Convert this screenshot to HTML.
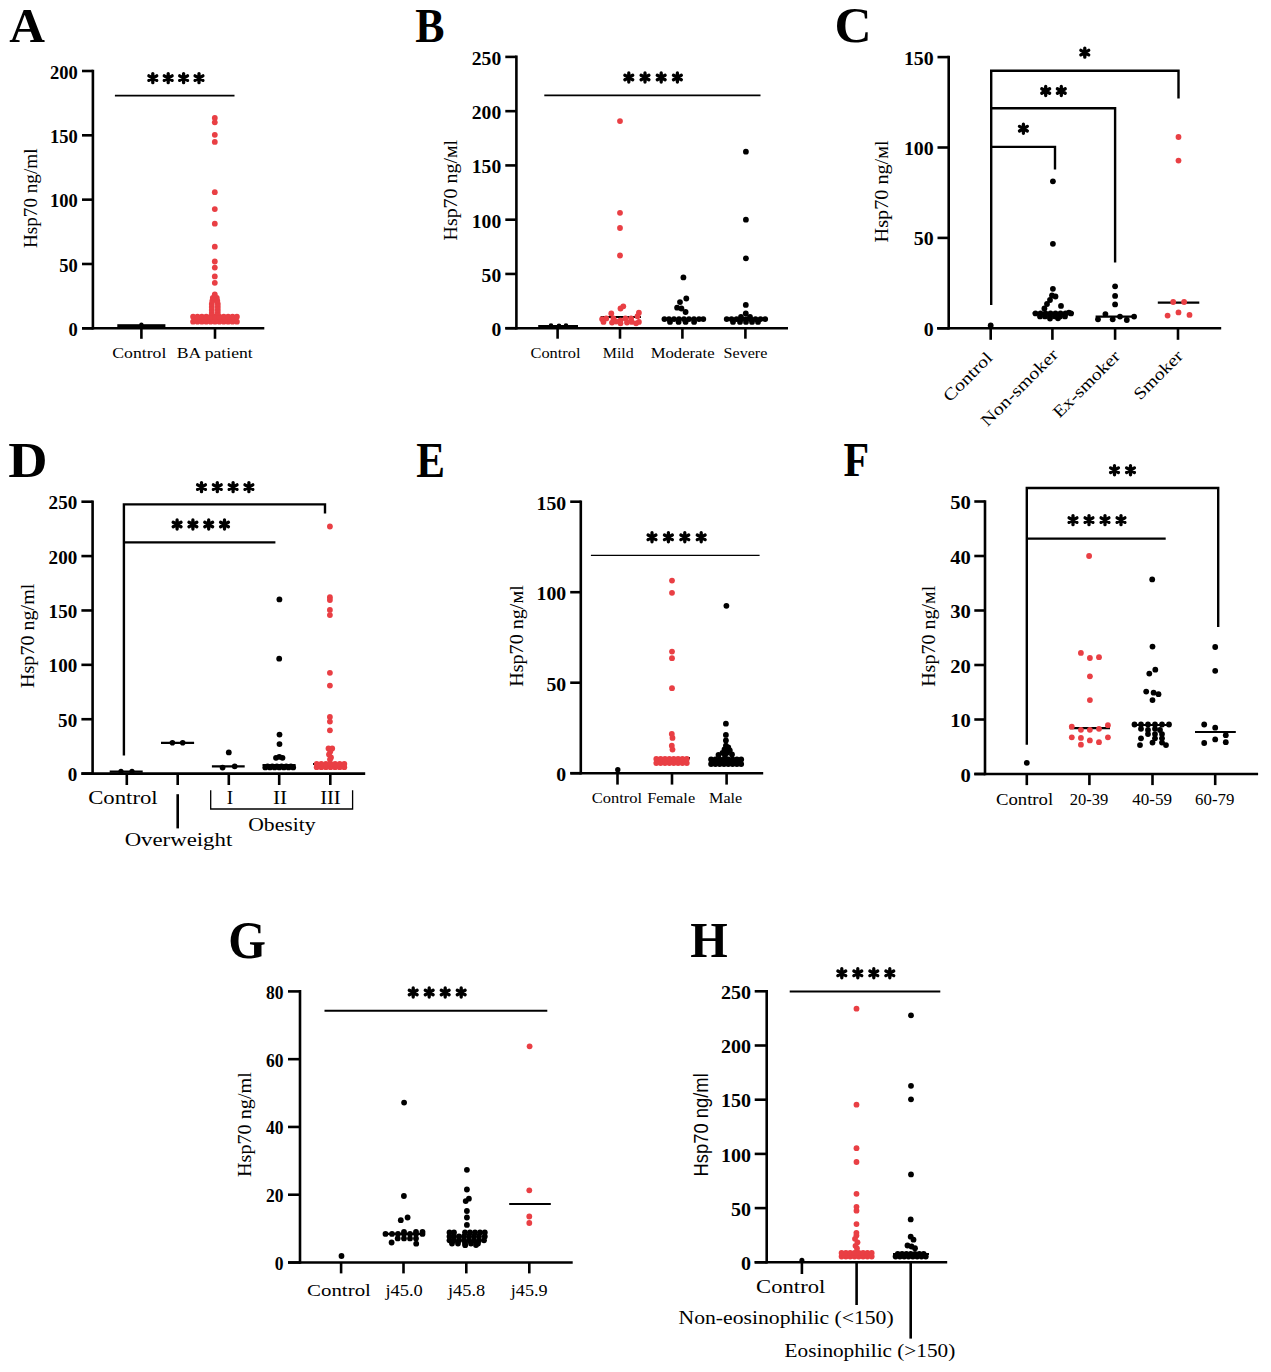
<!DOCTYPE html>
<html><head><meta charset="utf-8"><title>Hsp70 figure</title>
<style>
html,body{margin:0;padding:0;background:#fff;}
body{width:1271px;height:1372px;overflow:hidden;}
svg{display:block;font-family:"Liberation Serif", serif;}
</style></head><body>
<svg width="1271" height="1372" viewBox="0 0 1271 1372">
<rect width="1271" height="1372" fill="#fff"/>
<text transform="translate(9.21 41.8) scale(1.0087 1)" font-size="49.08" font-weight="bold">A</text>
<line x1="92.9" y1="69.7" x2="92.9" y2="329.6" stroke="#000" stroke-width="2.6" stroke-linecap="butt"/>
<line x1="82" y1="328.3" x2="92.9" y2="328.3" stroke="#000" stroke-width="2.6" stroke-linecap="butt"/>
<text x="77.7" y="335.86" font-size="18.5" text-anchor="end" font-weight="bold">0</text>
<line x1="82" y1="263.98" x2="92.9" y2="263.98" stroke="#000" stroke-width="2.6" stroke-linecap="butt"/>
<text x="77.7" y="271.53" font-size="18.5" text-anchor="end" font-weight="bold">50</text>
<line x1="82" y1="199.65" x2="92.9" y2="199.65" stroke="#000" stroke-width="2.6" stroke-linecap="butt"/>
<text x="77.7" y="207.21" font-size="18.5" text-anchor="end" font-weight="bold">100</text>
<line x1="82" y1="135.32" x2="92.9" y2="135.32" stroke="#000" stroke-width="2.6" stroke-linecap="butt"/>
<text x="77.7" y="142.88" font-size="18.5" text-anchor="end" font-weight="bold">150</text>
<line x1="82" y1="71" x2="92.9" y2="71" stroke="#000" stroke-width="2.6" stroke-linecap="butt"/>
<text x="77.7" y="78.56" font-size="18.5" text-anchor="end" font-weight="bold">200</text>
<line x1="82" y1="328.3" x2="264.3" y2="328.3" stroke="#000" stroke-width="2.6" stroke-linecap="butt"/>
<line x1="141.4" y1="328.3" x2="141.4" y2="338.8" stroke="#000" stroke-width="2.6" stroke-linecap="butt"/>
<line x1="215" y1="328.3" x2="215" y2="338.8" stroke="#000" stroke-width="2.6" stroke-linecap="butt"/>
<text x="36.8" y="198.3" font-size="19" text-anchor="middle" textLength="99.5" lengthAdjust="spacingAndGlyphs" transform="rotate(-90 36.8 198.3)">Hsp70 ng/ml</text>
<text x="139.3" y="357.8" font-size="15.2" text-anchor="middle" textLength="54.11" lengthAdjust="spacingAndGlyphs">Control</text>
<text x="214.75" y="357.8" font-size="15.2" text-anchor="middle" textLength="76.01" lengthAdjust="spacingAndGlyphs">BA patient</text>
<line x1="114.9" y1="95.7" x2="234.5" y2="95.7" stroke="#000" stroke-width="1.8" stroke-linecap="butt"/>
<path d="M152.8 73.55V82.65M148.86 75.82L156.74 80.38M148.86 80.38L156.74 75.82" stroke="#000" stroke-width="3.3" stroke-linecap="round" fill="none"/>
<path d="M168.2 73.55V82.65M164.26 75.82L172.14 80.38M164.26 80.38L172.14 75.82" stroke="#000" stroke-width="3.3" stroke-linecap="round" fill="none"/>
<path d="M183.6 73.55V82.65M179.66 75.82L187.54 80.38M179.66 80.38L187.54 75.82" stroke="#000" stroke-width="3.3" stroke-linecap="round" fill="none"/>
<path d="M199 73.55V82.65M195.06 75.82L202.94 80.38M195.06 80.38L202.94 75.82" stroke="#000" stroke-width="3.3" stroke-linecap="round" fill="none"/>
<rect x="117.3" y="324.2" width="48.1" height="3.2" fill="#000"/>
<circle cx="141.4" cy="324.8" r="2.2" fill="#000"/>
<line x1="193" y1="316.8" x2="236" y2="316.8" stroke="#000" stroke-width="2" stroke-linecap="butt"/>
<circle cx="193.1" cy="321.7" r="2.9" fill="#e93f44"/>
<circle cx="197.48" cy="321.7" r="2.9" fill="#e93f44"/>
<circle cx="201.86" cy="321.7" r="2.9" fill="#e93f44"/>
<circle cx="206.24" cy="321.7" r="2.9" fill="#e93f44"/>
<circle cx="210.62" cy="321.7" r="2.9" fill="#e93f44"/>
<circle cx="215" cy="321.7" r="2.9" fill="#e93f44"/>
<circle cx="219.38" cy="321.7" r="2.9" fill="#e93f44"/>
<circle cx="223.76" cy="321.7" r="2.9" fill="#e93f44"/>
<circle cx="228.14" cy="321.7" r="2.9" fill="#e93f44"/>
<circle cx="232.52" cy="321.7" r="2.9" fill="#e93f44"/>
<circle cx="236.9" cy="321.7" r="2.9" fill="#e93f44"/>
<circle cx="195.29" cy="319.2" r="2.9" fill="#e93f44"/>
<circle cx="199.67" cy="319.2" r="2.9" fill="#e93f44"/>
<circle cx="204.05" cy="319.2" r="2.9" fill="#e93f44"/>
<circle cx="208.43" cy="319.2" r="2.9" fill="#e93f44"/>
<circle cx="212.81" cy="319.2" r="2.9" fill="#e93f44"/>
<circle cx="217.19" cy="319.2" r="2.9" fill="#e93f44"/>
<circle cx="221.57" cy="319.2" r="2.9" fill="#e93f44"/>
<circle cx="225.95" cy="319.2" r="2.9" fill="#e93f44"/>
<circle cx="230.33" cy="319.2" r="2.9" fill="#e93f44"/>
<circle cx="234.71" cy="319.2" r="2.9" fill="#e93f44"/>
<circle cx="193.1" cy="316.7" r="2.9" fill="#e93f44"/>
<circle cx="197.48" cy="316.7" r="2.9" fill="#e93f44"/>
<circle cx="201.86" cy="316.7" r="2.9" fill="#e93f44"/>
<circle cx="206.24" cy="316.7" r="2.9" fill="#e93f44"/>
<circle cx="210.62" cy="316.7" r="2.9" fill="#e93f44"/>
<circle cx="215" cy="316.7" r="2.9" fill="#e93f44"/>
<circle cx="219.38" cy="316.7" r="2.9" fill="#e93f44"/>
<circle cx="223.76" cy="316.7" r="2.9" fill="#e93f44"/>
<circle cx="228.14" cy="316.7" r="2.9" fill="#e93f44"/>
<circle cx="232.52" cy="316.7" r="2.9" fill="#e93f44"/>
<circle cx="236.9" cy="316.7" r="2.9" fill="#e93f44"/>
<circle cx="211.8" cy="313" r="2.9" fill="#e93f44"/>
<circle cx="217.8" cy="313" r="2.9" fill="#e93f44"/>
<circle cx="211.8" cy="310" r="2.9" fill="#e93f44"/>
<circle cx="217.8" cy="310" r="2.9" fill="#e93f44"/>
<circle cx="211.8" cy="307" r="2.9" fill="#e93f44"/>
<circle cx="217.8" cy="307" r="2.9" fill="#e93f44"/>
<circle cx="211.8" cy="304" r="2.9" fill="#e93f44"/>
<circle cx="217.8" cy="304" r="2.9" fill="#e93f44"/>
<circle cx="212.3" cy="301" r="2.9" fill="#e93f44"/>
<circle cx="217.3" cy="301" r="2.9" fill="#e93f44"/>
<circle cx="212.8" cy="298" r="2.9" fill="#e93f44"/>
<circle cx="216.8" cy="298" r="2.9" fill="#e93f44"/>
<circle cx="214.8" cy="294.5" r="2.9" fill="#e93f44"/>
<circle cx="214.8" cy="118" r="2.9" fill="#e93f44"/>
<circle cx="214.8" cy="122.3" r="2.9" fill="#e93f44"/>
<circle cx="214.8" cy="134.8" r="2.9" fill="#e93f44"/>
<circle cx="214.8" cy="141.9" r="2.9" fill="#e93f44"/>
<circle cx="214.8" cy="192.2" r="2.9" fill="#e93f44"/>
<circle cx="214.8" cy="209.1" r="2.9" fill="#e93f44"/>
<circle cx="214.8" cy="223.7" r="2.9" fill="#e93f44"/>
<circle cx="214.8" cy="246.7" r="2.9" fill="#e93f44"/>
<circle cx="214.8" cy="261.5" r="2.9" fill="#e93f44"/>
<circle cx="214.8" cy="267.6" r="2.9" fill="#e93f44"/>
<circle cx="214.8" cy="276.4" r="2.9" fill="#e93f44"/>
<circle cx="214.8" cy="282.8" r="2.9" fill="#e93f44"/>
<text transform="translate(415.17 41.66) scale(0.8846 1)" font-size="49.57" font-weight="bold">B</text>
<line x1="516.4" y1="55.6" x2="516.4" y2="329.5" stroke="#000" stroke-width="2.6" stroke-linecap="butt"/>
<line x1="505.3" y1="328.2" x2="516.4" y2="328.2" stroke="#000" stroke-width="2.6" stroke-linecap="butt"/>
<text x="501.2" y="336.12" font-size="19.6" text-anchor="end" font-weight="bold">0</text>
<line x1="505.3" y1="273.94" x2="516.4" y2="273.94" stroke="#000" stroke-width="2.6" stroke-linecap="butt"/>
<text x="501.2" y="281.86" font-size="19.6" text-anchor="end" font-weight="bold">50</text>
<line x1="505.3" y1="219.68" x2="516.4" y2="219.68" stroke="#000" stroke-width="2.6" stroke-linecap="butt"/>
<text x="501.2" y="227.6" font-size="19.6" text-anchor="end" font-weight="bold">100</text>
<line x1="505.3" y1="165.42" x2="516.4" y2="165.42" stroke="#000" stroke-width="2.6" stroke-linecap="butt"/>
<text x="501.2" y="173.34" font-size="19.6" text-anchor="end" font-weight="bold">150</text>
<line x1="505.3" y1="111.16" x2="516.4" y2="111.16" stroke="#000" stroke-width="2.6" stroke-linecap="butt"/>
<text x="501.2" y="119.08" font-size="19.6" text-anchor="end" font-weight="bold">200</text>
<line x1="505.3" y1="56.9" x2="516.4" y2="56.9" stroke="#000" stroke-width="2.6" stroke-linecap="butt"/>
<text x="501.2" y="64.82" font-size="19.6" text-anchor="end" font-weight="bold">250</text>
<line x1="505.3" y1="328.2" x2="788" y2="328.2" stroke="#000" stroke-width="2.6" stroke-linecap="butt"/>
<line x1="557.6" y1="328.2" x2="557.6" y2="338.7" stroke="#000" stroke-width="2.6" stroke-linecap="butt"/>
<line x1="620" y1="328.2" x2="620" y2="338.7" stroke="#000" stroke-width="2.6" stroke-linecap="butt"/>
<line x1="682.4" y1="328.2" x2="682.4" y2="338.7" stroke="#000" stroke-width="2.6" stroke-linecap="butt"/>
<line x1="745.4" y1="328.2" x2="745.4" y2="338.7" stroke="#000" stroke-width="2.6" stroke-linecap="butt"/>
<text x="457.5" y="190.2" font-size="19.5" text-anchor="middle" textLength="100.5" lengthAdjust="spacingAndGlyphs" transform="rotate(-90 457.5 190.2)">Hsp70 ng/мl</text>
<text x="555.55" y="357.8" font-size="15.2" text-anchor="middle" textLength="50.01" lengthAdjust="spacingAndGlyphs">Control</text>
<text x="618.25" y="357.8" font-size="15.2" text-anchor="middle" textLength="31.01" lengthAdjust="spacingAndGlyphs">Mild</text>
<text x="682.6" y="357.8" font-size="15.2" text-anchor="middle" textLength="63.91" lengthAdjust="spacingAndGlyphs">Moderate</text>
<text x="745.45" y="357.8" font-size="15.2" text-anchor="middle" textLength="43.81" lengthAdjust="spacingAndGlyphs">Severe</text>
<line x1="544.3" y1="95.3" x2="760.5" y2="95.3" stroke="#000" stroke-width="1.8" stroke-linecap="butt"/>
<path d="M628.8 72.95V82.05M624.86 75.22L632.74 79.78M624.86 79.78L632.74 75.22" stroke="#000" stroke-width="3.3" stroke-linecap="round" fill="none"/>
<path d="M645 72.95V82.05M641.06 75.22L648.94 79.78M641.06 79.78L648.94 75.22" stroke="#000" stroke-width="3.3" stroke-linecap="round" fill="none"/>
<path d="M661.2 72.95V82.05M657.26 75.22L665.14 79.78M657.26 79.78L665.14 75.22" stroke="#000" stroke-width="3.3" stroke-linecap="round" fill="none"/>
<path d="M677.4 72.95V82.05M673.46 75.22L681.34 79.78M673.46 79.78L681.34 75.22" stroke="#000" stroke-width="3.3" stroke-linecap="round" fill="none"/>
<line x1="538.2" y1="326" x2="578" y2="326" stroke="#000" stroke-width="1.8" stroke-linecap="butt"/>
<circle cx="551" cy="325.6" r="2.3" fill="#000"/>
<circle cx="559" cy="325.8" r="2.3" fill="#000"/>
<circle cx="566" cy="325.6" r="2.3" fill="#000"/>
<line x1="600.7" y1="317" x2="641" y2="317" stroke="#000" stroke-width="2" stroke-linecap="butt"/>
<circle cx="623.3" cy="306.3" r="2.9" fill="#e93f44"/>
<circle cx="620.5" cy="308.5" r="2.9" fill="#e93f44"/>
<circle cx="611.3" cy="313.4" r="2.9" fill="#e93f44"/>
<circle cx="638.9" cy="312.7" r="2.9" fill="#e93f44"/>
<circle cx="602.1" cy="319.1" r="2.9" fill="#e93f44"/>
<circle cx="606.3" cy="318.4" r="2.9" fill="#e93f44"/>
<circle cx="613.4" cy="318.4" r="2.9" fill="#e93f44"/>
<circle cx="620.5" cy="320.5" r="2.9" fill="#e93f44"/>
<circle cx="625.4" cy="318.4" r="2.9" fill="#e93f44"/>
<circle cx="631.1" cy="318.4" r="2.9" fill="#e93f44"/>
<circle cx="637.5" cy="316.2" r="2.9" fill="#e93f44"/>
<circle cx="638.9" cy="321.9" r="2.9" fill="#e93f44"/>
<circle cx="612" cy="322.6" r="2.9" fill="#e93f44"/>
<circle cx="620.5" cy="323.3" r="2.9" fill="#e93f44"/>
<circle cx="631.8" cy="321.9" r="2.9" fill="#e93f44"/>
<circle cx="636.1" cy="323.3" r="2.9" fill="#e93f44"/>
<circle cx="603.5" cy="321.9" r="2.9" fill="#e93f44"/>
<circle cx="616" cy="321.5" r="2.9" fill="#e93f44"/>
<circle cx="627" cy="322.5" r="2.9" fill="#e93f44"/>
<circle cx="620" cy="121.1" r="2.9" fill="#e93f44"/>
<circle cx="620" cy="212.8" r="2.9" fill="#e93f44"/>
<circle cx="620" cy="228" r="2.9" fill="#e93f44"/>
<circle cx="620" cy="255.5" r="2.9" fill="#e93f44"/>
<line x1="664" y1="319.1" x2="703.3" y2="319.1" stroke="#000" stroke-width="2.2" stroke-linecap="butt"/>
<circle cx="664.4" cy="319.1" r="2.9" fill="#000"/>
<circle cx="669" cy="319.1" r="2.9" fill="#000"/>
<circle cx="674" cy="319.1" r="2.9" fill="#000"/>
<circle cx="679" cy="319.1" r="2.9" fill="#000"/>
<circle cx="684" cy="319.1" r="2.9" fill="#000"/>
<circle cx="689" cy="319.1" r="2.9" fill="#000"/>
<circle cx="694" cy="319.1" r="2.9" fill="#000"/>
<circle cx="699" cy="319.1" r="2.9" fill="#000"/>
<circle cx="703.3" cy="319.1" r="2.9" fill="#000"/>
<circle cx="670" cy="321.9" r="2.9" fill="#000"/>
<circle cx="678.6" cy="321.9" r="2.9" fill="#000"/>
<circle cx="685.6" cy="321.9" r="2.9" fill="#000"/>
<circle cx="694.1" cy="321.9" r="2.9" fill="#000"/>
<circle cx="683.4" cy="277.4" r="2.9" fill="#000"/>
<circle cx="686.3" cy="298.5" r="2.9" fill="#000"/>
<circle cx="680" cy="302.1" r="2.9" fill="#000"/>
<circle cx="677.1" cy="307.7" r="2.9" fill="#000"/>
<circle cx="681.4" cy="308.5" r="2.9" fill="#000"/>
<circle cx="685.6" cy="312" r="2.9" fill="#000"/>
<line x1="726.7" y1="319.1" x2="765.7" y2="319.1" stroke="#000" stroke-width="2.2" stroke-linecap="butt"/>
<circle cx="726.7" cy="319.1" r="2.9" fill="#000"/>
<circle cx="731.5" cy="319.1" r="2.9" fill="#000"/>
<circle cx="736.5" cy="319.1" r="2.9" fill="#000"/>
<circle cx="741.5" cy="319.1" r="2.9" fill="#000"/>
<circle cx="746" cy="319.1" r="2.9" fill="#000"/>
<circle cx="750.5" cy="319.1" r="2.9" fill="#000"/>
<circle cx="755.5" cy="319.1" r="2.9" fill="#000"/>
<circle cx="760.5" cy="319.1" r="2.9" fill="#000"/>
<circle cx="765.2" cy="319.1" r="2.9" fill="#000"/>
<circle cx="733" cy="321.9" r="2.9" fill="#000"/>
<circle cx="740" cy="321.9" r="2.9" fill="#000"/>
<circle cx="746" cy="321.9" r="2.9" fill="#000"/>
<circle cx="752" cy="321.9" r="2.9" fill="#000"/>
<circle cx="758" cy="321.9" r="2.9" fill="#000"/>
<circle cx="745.9" cy="151.7" r="2.9" fill="#000"/>
<circle cx="745.9" cy="219.7" r="2.9" fill="#000"/>
<circle cx="745.9" cy="258.3" r="2.9" fill="#000"/>
<circle cx="745.8" cy="304.9" r="2.9" fill="#000"/>
<circle cx="745.8" cy="313.4" r="2.9" fill="#000"/>
<circle cx="741" cy="317" r="2.9" fill="#000"/>
<circle cx="750" cy="317" r="2.9" fill="#000"/>
<text transform="translate(834.49 41.99) scale(0.9954 1)" font-size="51.64" font-weight="bold">C</text>
<line x1="948.7" y1="55.8" x2="948.7" y2="329.6" stroke="#000" stroke-width="2.6" stroke-linecap="butt"/>
<line x1="937.5" y1="328.3" x2="948.7" y2="328.3" stroke="#000" stroke-width="2.6" stroke-linecap="butt"/>
<text x="933.7" y="335.86" font-size="18.5" text-anchor="end" font-weight="bold" textLength="9.93" lengthAdjust="spacingAndGlyphs">0</text>
<line x1="937.5" y1="237.9" x2="948.7" y2="237.9" stroke="#000" stroke-width="2.6" stroke-linecap="butt"/>
<text x="933.7" y="245.46" font-size="18.5" text-anchor="end" font-weight="bold" textLength="19.87" lengthAdjust="spacingAndGlyphs">50</text>
<line x1="937.5" y1="147.5" x2="948.7" y2="147.5" stroke="#000" stroke-width="2.6" stroke-linecap="butt"/>
<text x="933.7" y="155.06" font-size="18.5" text-anchor="end" font-weight="bold" textLength="29.8" lengthAdjust="spacingAndGlyphs">100</text>
<line x1="937.5" y1="57.1" x2="948.7" y2="57.1" stroke="#000" stroke-width="2.6" stroke-linecap="butt"/>
<text x="933.7" y="64.66" font-size="18.5" text-anchor="end" font-weight="bold" textLength="29.8" lengthAdjust="spacingAndGlyphs">150</text>
<line x1="937" y1="328.3" x2="1221.2" y2="328.3" stroke="#000" stroke-width="2.6" stroke-linecap="butt"/>
<line x1="990.7" y1="328.3" x2="990.7" y2="339.8" stroke="#000" stroke-width="2.6" stroke-linecap="butt"/>
<line x1="1052.4" y1="328.3" x2="1052.4" y2="339.8" stroke="#000" stroke-width="2.6" stroke-linecap="butt"/>
<line x1="1115.1" y1="328.3" x2="1115.1" y2="339.8" stroke="#000" stroke-width="2.6" stroke-linecap="butt"/>
<line x1="1178" y1="328.3" x2="1178" y2="339.8" stroke="#000" stroke-width="2.6" stroke-linecap="butt"/>
<text x="888.4" y="191.4" font-size="19.2" text-anchor="middle" textLength="102" lengthAdjust="spacingAndGlyphs" transform="rotate(-90 888.4 191.4)">Hsp70 ng/мl</text>
<text x="993.5" y="358.8" font-size="16.8" text-anchor="end" textLength="62" lengthAdjust="spacingAndGlyphs" transform="rotate(-45 993.5 358.8)">Control</text>
<text x="1059" y="355.8" font-size="16.8" text-anchor="end" textLength="101" lengthAdjust="spacingAndGlyphs" transform="rotate(-45 1059 355.8)">Non-smoker</text>
<text x="1121" y="357.3" font-size="16.8" text-anchor="end" textLength="87" lengthAdjust="spacingAndGlyphs" transform="rotate(-45 1121 357.3)">Ex-smoker</text>
<text x="1184" y="357" font-size="16.8" text-anchor="end" textLength="62" lengthAdjust="spacingAndGlyphs" transform="rotate(-45 1184 357)">Smoker</text>
<polyline points="991.2,305 991.2,70.8 1178.5,70.8 1178.5,98.4" fill="none" stroke="#000" stroke-width="2.4" stroke-linejoin="miter"/>
<polyline points="991.2,108.3 1115.1,108.3 1115.1,262.6" fill="none" stroke="#000" stroke-width="2.4" stroke-linejoin="miter"/>
<polyline points="991.2,146.9 1055,146.9 1055,169.4" fill="none" stroke="#000" stroke-width="2.4" stroke-linejoin="miter"/>
<path d="M1084.8 48.05V57.15M1080.86 50.33L1088.74 54.88M1080.86 54.88L1088.74 50.33" stroke="#000" stroke-width="3.3" stroke-linecap="round" fill="none"/>
<path d="M1045.7 86.45V95.55M1041.76 88.72L1049.64 93.28M1041.76 93.28L1049.64 88.72" stroke="#000" stroke-width="3.3" stroke-linecap="round" fill="none"/>
<path d="M1061.3 86.45V95.55M1057.36 88.72L1065.24 93.28M1057.36 93.28L1065.24 88.72" stroke="#000" stroke-width="3.3" stroke-linecap="round" fill="none"/>
<path d="M1023.4 124.15V133.25M1019.46 126.42L1027.34 130.97M1019.46 130.97L1027.34 126.42" stroke="#000" stroke-width="3.3" stroke-linecap="round" fill="none"/>
<circle cx="990.7" cy="325.4" r="2.9" fill="#000"/>
<line x1="1032.7" y1="313.2" x2="1073.7" y2="313.2" stroke="#000" stroke-width="2.2" stroke-linecap="butt"/>
<circle cx="1035.5" cy="313.4" r="2.9" fill="#000"/>
<circle cx="1040.5" cy="313.4" r="2.9" fill="#000"/>
<circle cx="1045.5" cy="313.4" r="2.9" fill="#000"/>
<circle cx="1050.5" cy="313.4" r="2.9" fill="#000"/>
<circle cx="1055.5" cy="313.4" r="2.9" fill="#000"/>
<circle cx="1060.5" cy="313.4" r="2.9" fill="#000"/>
<circle cx="1065.5" cy="313.4" r="2.9" fill="#000"/>
<circle cx="1071" cy="313.4" r="2.9" fill="#000"/>
<circle cx="1040" cy="316.4" r="2.9" fill="#000"/>
<circle cx="1045" cy="316.4" r="2.9" fill="#000"/>
<circle cx="1050" cy="316.4" r="2.9" fill="#000"/>
<circle cx="1055" cy="316.4" r="2.9" fill="#000"/>
<circle cx="1060" cy="316.4" r="2.9" fill="#000"/>
<circle cx="1065" cy="316.4" r="2.9" fill="#000"/>
<circle cx="1050" cy="318.6" r="2.9" fill="#000"/>
<circle cx="1058" cy="318.3" r="2.9" fill="#000"/>
<circle cx="1068.9" cy="312.6" r="2.9" fill="#000"/>
<circle cx="1052.9" cy="181.3" r="2.9" fill="#000"/>
<circle cx="1052.9" cy="243.8" r="2.9" fill="#000"/>
<circle cx="1052.9" cy="288.8" r="2.9" fill="#000"/>
<circle cx="1052" cy="295.5" r="2.9" fill="#000"/>
<circle cx="1055.5" cy="296.5" r="2.9" fill="#000"/>
<circle cx="1061" cy="305.9" r="2.9" fill="#000"/>
<circle cx="1044.4" cy="308.5" r="2.9" fill="#000"/>
<circle cx="1047" cy="304" r="2.9" fill="#000"/>
<circle cx="1050" cy="300" r="2.9" fill="#000"/>
<line x1="1095.6" y1="316.6" x2="1135.9" y2="316.6" stroke="#000" stroke-width="2.2" stroke-linecap="butt"/>
<circle cx="1115.1" cy="286.3" r="2.9" fill="#000"/>
<circle cx="1115.1" cy="295.9" r="2.9" fill="#000"/>
<circle cx="1115.1" cy="304.4" r="2.9" fill="#000"/>
<circle cx="1098" cy="319.3" r="2.9" fill="#000"/>
<circle cx="1105.4" cy="314.1" r="2.9" fill="#000"/>
<circle cx="1112.7" cy="319.3" r="2.9" fill="#000"/>
<circle cx="1120" cy="316.6" r="2.9" fill="#000"/>
<circle cx="1126.8" cy="320" r="2.9" fill="#000"/>
<circle cx="1134.1" cy="316.6" r="2.9" fill="#000"/>
<line x1="1157.8" y1="302.7" x2="1199.3" y2="302.7" stroke="#000" stroke-width="2.2" stroke-linecap="butt"/>
<circle cx="1178.5" cy="137" r="2.9" fill="#e93f44"/>
<circle cx="1178.5" cy="160.6" r="2.9" fill="#e93f44"/>
<circle cx="1173.2" cy="302" r="2.9" fill="#e93f44"/>
<circle cx="1184.1" cy="302" r="2.9" fill="#e93f44"/>
<circle cx="1167.6" cy="315.6" r="2.9" fill="#e93f44"/>
<circle cx="1178.5" cy="312.4" r="2.9" fill="#e93f44"/>
<circle cx="1189.5" cy="314.9" r="2.9" fill="#e93f44"/>
<text transform="translate(8.24 476.6) scale(1.0902 1)" font-size="49.94" font-weight="bold">D</text>
<line x1="92.6" y1="500.4" x2="92.6" y2="774.9" stroke="#000" stroke-width="2.6" stroke-linecap="butt"/>
<line x1="81.4" y1="773.6" x2="92.6" y2="773.6" stroke="#000" stroke-width="2.6" stroke-linecap="butt"/>
<text x="77.2" y="781.16" font-size="18.5" text-anchor="end" font-weight="bold" textLength="9.53" lengthAdjust="spacingAndGlyphs">0</text>
<line x1="81.4" y1="719.22" x2="92.6" y2="719.22" stroke="#000" stroke-width="2.6" stroke-linecap="butt"/>
<text x="77.2" y="726.78" font-size="18.5" text-anchor="end" font-weight="bold" textLength="19.07" lengthAdjust="spacingAndGlyphs">50</text>
<line x1="81.4" y1="664.84" x2="92.6" y2="664.84" stroke="#000" stroke-width="2.6" stroke-linecap="butt"/>
<text x="77.2" y="672.4" font-size="18.5" text-anchor="end" font-weight="bold" textLength="28.6" lengthAdjust="spacingAndGlyphs">100</text>
<line x1="81.4" y1="610.46" x2="92.6" y2="610.46" stroke="#000" stroke-width="2.6" stroke-linecap="butt"/>
<text x="77.2" y="618.02" font-size="18.5" text-anchor="end" font-weight="bold" textLength="28.6" lengthAdjust="spacingAndGlyphs">150</text>
<line x1="81.4" y1="556.08" x2="92.6" y2="556.08" stroke="#000" stroke-width="2.6" stroke-linecap="butt"/>
<text x="77.2" y="563.64" font-size="18.5" text-anchor="end" font-weight="bold" textLength="28.6" lengthAdjust="spacingAndGlyphs">200</text>
<line x1="81.4" y1="501.7" x2="92.6" y2="501.7" stroke="#000" stroke-width="2.6" stroke-linecap="butt"/>
<text x="77.2" y="509.26" font-size="18.5" text-anchor="end" font-weight="bold" textLength="28.6" lengthAdjust="spacingAndGlyphs">250</text>
<line x1="81.4" y1="773.6" x2="365.2" y2="773.6" stroke="#000" stroke-width="2.6" stroke-linecap="butt"/>
<line x1="126.8" y1="773.6" x2="126.8" y2="785" stroke="#000" stroke-width="2.6" stroke-linecap="butt"/>
<line x1="177.7" y1="773.6" x2="177.7" y2="785" stroke="#000" stroke-width="2.6" stroke-linecap="butt"/>
<line x1="228.8" y1="773.6" x2="228.8" y2="785" stroke="#000" stroke-width="2.6" stroke-linecap="butt"/>
<line x1="279.2" y1="773.6" x2="279.2" y2="785" stroke="#000" stroke-width="2.6" stroke-linecap="butt"/>
<line x1="330.3" y1="773.6" x2="330.3" y2="785" stroke="#000" stroke-width="2.6" stroke-linecap="butt"/>
<line x1="177.7" y1="794.2" x2="177.7" y2="828.4" stroke="#000" stroke-width="2.6" stroke-linecap="butt"/>
<text x="34.1" y="635.8" font-size="19.5" text-anchor="middle" textLength="104.3" lengthAdjust="spacingAndGlyphs" transform="rotate(-90 34.1 635.8)">Hsp70 ng/ml</text>
<text x="122.9" y="804" font-size="19.2" text-anchor="middle" textLength="69.55" lengthAdjust="spacingAndGlyphs">Control</text>
<text x="229.8" y="804" font-size="19.2" text-anchor="middle" textLength="6.35" lengthAdjust="spacingAndGlyphs">I</text>
<text x="280" y="804" font-size="19.2" text-anchor="middle" textLength="14.15" lengthAdjust="spacingAndGlyphs">II</text>
<text x="330.4" y="804" font-size="19.2" text-anchor="middle" textLength="20.55" lengthAdjust="spacingAndGlyphs">III</text>
<polyline points="210.7,790.3 210.7,809 352.6,809 352.6,790.3" fill="none" stroke="#000" stroke-width="1.3" stroke-linejoin="miter"/>
<text x="281.9" y="831.3" font-size="19.2" text-anchor="middle" textLength="67.35" lengthAdjust="spacingAndGlyphs">Obesity</text>
<text x="178.45" y="846.2" font-size="19.2" text-anchor="middle" textLength="107.65" lengthAdjust="spacingAndGlyphs">Overweight</text>
<polyline points="123.9,755.4 123.9,504.4 325,504.4 325,513.5" fill="none" stroke="#000" stroke-width="2.4" stroke-linejoin="miter"/>
<line x1="123.9" y1="542.4" x2="275.4" y2="542.4" stroke="#000" stroke-width="2.4" stroke-linecap="butt"/>
<path d="M201.5 482.55V491.65M197.56 484.83L205.44 489.38M197.56 489.38L205.44 484.83" stroke="#000" stroke-width="3.3" stroke-linecap="round" fill="none"/>
<path d="M217.3 482.55V491.65M213.36 484.83L221.24 489.38M213.36 489.38L221.24 484.83" stroke="#000" stroke-width="3.3" stroke-linecap="round" fill="none"/>
<path d="M233.1 482.55V491.65M229.16 484.83L237.04 489.38M229.16 489.38L237.04 484.83" stroke="#000" stroke-width="3.3" stroke-linecap="round" fill="none"/>
<path d="M248.9 482.55V491.65M244.96 484.83L252.84 489.38M244.96 489.38L252.84 484.83" stroke="#000" stroke-width="3.3" stroke-linecap="round" fill="none"/>
<path d="M177.1 519.95V529.05M173.16 522.23L181.04 526.77M173.16 526.77L181.04 522.23" stroke="#000" stroke-width="3.3" stroke-linecap="round" fill="none"/>
<path d="M192.9 519.95V529.05M188.96 522.23L196.84 526.77M188.96 526.77L196.84 522.23" stroke="#000" stroke-width="3.3" stroke-linecap="round" fill="none"/>
<path d="M208.7 519.95V529.05M204.76 522.23L212.64 526.77M204.76 526.77L212.64 522.23" stroke="#000" stroke-width="3.3" stroke-linecap="round" fill="none"/>
<path d="M224.5 519.95V529.05M220.56 522.23L228.44 526.77M220.56 526.77L228.44 522.23" stroke="#000" stroke-width="3.3" stroke-linecap="round" fill="none"/>
<line x1="109.7" y1="771.6" x2="142.7" y2="771.6" stroke="#000" stroke-width="2.2" stroke-linecap="butt"/>
<circle cx="121" cy="771.3" r="2.6" fill="#000"/>
<circle cx="132" cy="771.3" r="2.6" fill="#000"/>
<line x1="161" y1="742.8" x2="194.1" y2="742.8" stroke="#000" stroke-width="2.2" stroke-linecap="butt"/>
<circle cx="172.4" cy="742.8" r="2.8" fill="#000"/>
<circle cx="182.7" cy="742.8" r="2.8" fill="#000"/>
<line x1="211.9" y1="766.3" x2="244.7" y2="766.3" stroke="#000" stroke-width="2.2" stroke-linecap="butt"/>
<circle cx="228.8" cy="752.4" r="2.9" fill="#000"/>
<circle cx="222.6" cy="767.6" r="2.9" fill="#000"/>
<circle cx="234.7" cy="766.3" r="2.9" fill="#000"/>
<circle cx="279.4" cy="599.4" r="2.9" fill="#000"/>
<circle cx="279.2" cy="658.7" r="2.9" fill="#000"/>
<circle cx="279.5" cy="734.6" r="2.9" fill="#000"/>
<circle cx="279.5" cy="744.1" r="2.9" fill="#000"/>
<circle cx="276" cy="757.8" r="2.9" fill="#000"/>
<circle cx="282.5" cy="757.8" r="2.9" fill="#000"/>
<circle cx="279.3" cy="756.8" r="2.9" fill="#000"/>
<circle cx="265.3" cy="767.4" r="2.9" fill="#000"/>
<circle cx="269.95" cy="767.4" r="2.9" fill="#000"/>
<circle cx="274.6" cy="767.4" r="2.9" fill="#000"/>
<circle cx="279.25" cy="767.4" r="2.9" fill="#000"/>
<circle cx="283.9" cy="767.4" r="2.9" fill="#000"/>
<circle cx="288.55" cy="767.4" r="2.9" fill="#000"/>
<circle cx="293.2" cy="767.4" r="2.9" fill="#000"/>
<circle cx="267.62" cy="766.3" r="2.9" fill="#000"/>
<circle cx="272.27" cy="766.3" r="2.9" fill="#000"/>
<circle cx="276.92" cy="766.3" r="2.9" fill="#000"/>
<circle cx="281.57" cy="766.3" r="2.9" fill="#000"/>
<circle cx="286.23" cy="766.3" r="2.9" fill="#000"/>
<circle cx="290.88" cy="766.3" r="2.9" fill="#000"/>
<line x1="262.5" y1="765" x2="295.6" y2="765" stroke="#000" stroke-width="2.2" stroke-linecap="butt"/>
<line x1="313" y1="764" x2="347" y2="764" stroke="#000" stroke-width="2.2" stroke-linecap="butt"/>
<circle cx="316.7" cy="767.2" r="2.9" fill="#e93f44"/>
<circle cx="321.3" cy="767.2" r="2.9" fill="#e93f44"/>
<circle cx="325.9" cy="767.2" r="2.9" fill="#e93f44"/>
<circle cx="330.5" cy="767.2" r="2.9" fill="#e93f44"/>
<circle cx="335.1" cy="767.2" r="2.9" fill="#e93f44"/>
<circle cx="339.7" cy="767.2" r="2.9" fill="#e93f44"/>
<circle cx="344.3" cy="767.2" r="2.9" fill="#e93f44"/>
<circle cx="319" cy="765.55" r="2.9" fill="#e93f44"/>
<circle cx="323.6" cy="765.55" r="2.9" fill="#e93f44"/>
<circle cx="328.2" cy="765.55" r="2.9" fill="#e93f44"/>
<circle cx="332.8" cy="765.55" r="2.9" fill="#e93f44"/>
<circle cx="337.4" cy="765.55" r="2.9" fill="#e93f44"/>
<circle cx="342" cy="765.55" r="2.9" fill="#e93f44"/>
<circle cx="316.7" cy="763.9" r="2.9" fill="#e93f44"/>
<circle cx="321.3" cy="763.9" r="2.9" fill="#e93f44"/>
<circle cx="325.9" cy="763.9" r="2.9" fill="#e93f44"/>
<circle cx="330.5" cy="763.9" r="2.9" fill="#e93f44"/>
<circle cx="335.1" cy="763.9" r="2.9" fill="#e93f44"/>
<circle cx="339.7" cy="763.9" r="2.9" fill="#e93f44"/>
<circle cx="344.3" cy="763.9" r="2.9" fill="#e93f44"/>
<circle cx="328.5" cy="748.5" r="2.9" fill="#e93f44"/>
<circle cx="332.2" cy="748.5" r="2.9" fill="#e93f44"/>
<circle cx="330.3" cy="751.5" r="2.9" fill="#e93f44"/>
<circle cx="329" cy="754.5" r="2.9" fill="#e93f44"/>
<circle cx="331" cy="757.5" r="2.9" fill="#e93f44"/>
<circle cx="330" cy="759.5" r="2.9" fill="#e93f44"/>
<circle cx="329.9" cy="526.5" r="2.9" fill="#e93f44"/>
<circle cx="329.9" cy="597.2" r="2.9" fill="#e93f44"/>
<circle cx="329.9" cy="600" r="2.9" fill="#e93f44"/>
<circle cx="329.9" cy="609.9" r="2.9" fill="#e93f44"/>
<circle cx="329.9" cy="615.1" r="2.9" fill="#e93f44"/>
<circle cx="329.9" cy="672.8" r="2.9" fill="#e93f44"/>
<circle cx="329.9" cy="685.6" r="2.9" fill="#e93f44"/>
<circle cx="329.9" cy="716.9" r="2.9" fill="#e93f44"/>
<circle cx="329.9" cy="721.6" r="2.9" fill="#e93f44"/>
<circle cx="329.9" cy="730.3" r="2.9" fill="#e93f44"/>
<text transform="translate(416.26 476.5) scale(0.8657 1)" font-size="49.79" font-weight="bold">E</text>
<line x1="580.8" y1="500.4" x2="580.8" y2="774.5" stroke="#000" stroke-width="2.6" stroke-linecap="butt"/>
<line x1="570.2" y1="773.2" x2="580.8" y2="773.2" stroke="#000" stroke-width="2.6" stroke-linecap="butt"/>
<text x="566.2" y="781.22" font-size="19" text-anchor="end" font-weight="bold" textLength="9.87" lengthAdjust="spacingAndGlyphs">0</text>
<line x1="570.2" y1="682.7" x2="580.8" y2="682.7" stroke="#000" stroke-width="2.6" stroke-linecap="butt"/>
<text x="566.2" y="690.72" font-size="19" text-anchor="end" font-weight="bold" textLength="19.73" lengthAdjust="spacingAndGlyphs">50</text>
<line x1="570.2" y1="592.2" x2="580.8" y2="592.2" stroke="#000" stroke-width="2.6" stroke-linecap="butt"/>
<text x="566.2" y="600.22" font-size="19" text-anchor="end" font-weight="bold" textLength="29.6" lengthAdjust="spacingAndGlyphs">100</text>
<line x1="570.2" y1="501.7" x2="580.8" y2="501.7" stroke="#000" stroke-width="2.6" stroke-linecap="butt"/>
<text x="566.2" y="509.72" font-size="19" text-anchor="end" font-weight="bold" textLength="29.6" lengthAdjust="spacingAndGlyphs">150</text>
<line x1="570.4" y1="773.2" x2="763.2" y2="773.2" stroke="#000" stroke-width="2.6" stroke-linecap="butt"/>
<line x1="617.5" y1="773.2" x2="617.5" y2="784.6" stroke="#000" stroke-width="2.6" stroke-linecap="butt"/>
<line x1="672" y1="773.2" x2="672" y2="784.6" stroke="#000" stroke-width="2.6" stroke-linecap="butt"/>
<line x1="726.6" y1="773.2" x2="726.6" y2="784.6" stroke="#000" stroke-width="2.6" stroke-linecap="butt"/>
<text x="522.5" y="636" font-size="19.2" text-anchor="middle" textLength="101.6" lengthAdjust="spacingAndGlyphs" transform="rotate(-90 522.5 636)">Hsp70 ng/мl</text>
<text x="617" y="802.8" font-size="14.5" text-anchor="middle" textLength="50.47" lengthAdjust="spacingAndGlyphs">Control</text>
<text x="671.15" y="802.8" font-size="14.5" text-anchor="middle" textLength="47.97" lengthAdjust="spacingAndGlyphs">Female</text>
<text x="725.65" y="802.8" font-size="14.5" text-anchor="middle" textLength="33.17" lengthAdjust="spacingAndGlyphs">Male</text>
<line x1="590.9" y1="555.4" x2="759.6" y2="555.4" stroke="#000" stroke-width="1.4" stroke-linecap="butt"/>
<path d="M652 532.75V541.85M648.06 535.02L655.94 539.57M648.06 539.57L655.94 535.02" stroke="#000" stroke-width="3.3" stroke-linecap="round" fill="none"/>
<path d="M668.4 532.75V541.85M664.46 535.02L672.34 539.57M664.46 539.57L672.34 535.02" stroke="#000" stroke-width="3.3" stroke-linecap="round" fill="none"/>
<path d="M684.8 532.75V541.85M680.86 535.02L688.74 539.57M680.86 539.57L688.74 535.02" stroke="#000" stroke-width="3.3" stroke-linecap="round" fill="none"/>
<path d="M701.2 532.75V541.85M697.26 535.02L705.14 539.57M697.26 539.57L705.14 535.02" stroke="#000" stroke-width="3.3" stroke-linecap="round" fill="none"/>
<circle cx="617.8" cy="769.7" r="2.7" fill="#000"/>
<line x1="654" y1="758.1" x2="690" y2="758.1" stroke="#000" stroke-width="2.2" stroke-linecap="butt"/>
<circle cx="656.3" cy="763.1" r="2.9" fill="#e93f44"/>
<circle cx="660.66" cy="763.1" r="2.9" fill="#e93f44"/>
<circle cx="665.01" cy="763.1" r="2.9" fill="#e93f44"/>
<circle cx="669.37" cy="763.1" r="2.9" fill="#e93f44"/>
<circle cx="673.73" cy="763.1" r="2.9" fill="#e93f44"/>
<circle cx="678.09" cy="763.1" r="2.9" fill="#e93f44"/>
<circle cx="682.44" cy="763.1" r="2.9" fill="#e93f44"/>
<circle cx="686.8" cy="763.1" r="2.9" fill="#e93f44"/>
<circle cx="658.48" cy="761" r="2.9" fill="#e93f44"/>
<circle cx="662.84" cy="761" r="2.9" fill="#e93f44"/>
<circle cx="667.19" cy="761" r="2.9" fill="#e93f44"/>
<circle cx="671.55" cy="761" r="2.9" fill="#e93f44"/>
<circle cx="675.91" cy="761" r="2.9" fill="#e93f44"/>
<circle cx="680.26" cy="761" r="2.9" fill="#e93f44"/>
<circle cx="684.62" cy="761" r="2.9" fill="#e93f44"/>
<circle cx="656.3" cy="758.9" r="2.9" fill="#e93f44"/>
<circle cx="660.66" cy="758.9" r="2.9" fill="#e93f44"/>
<circle cx="665.01" cy="758.9" r="2.9" fill="#e93f44"/>
<circle cx="669.37" cy="758.9" r="2.9" fill="#e93f44"/>
<circle cx="673.73" cy="758.9" r="2.9" fill="#e93f44"/>
<circle cx="678.09" cy="758.9" r="2.9" fill="#e93f44"/>
<circle cx="682.44" cy="758.9" r="2.9" fill="#e93f44"/>
<circle cx="686.8" cy="758.9" r="2.9" fill="#e93f44"/>
<circle cx="672" cy="580.6" r="2.9" fill="#e93f44"/>
<circle cx="672" cy="592.8" r="2.9" fill="#e93f44"/>
<circle cx="672" cy="651.6" r="2.9" fill="#e93f44"/>
<circle cx="672" cy="658.2" r="2.9" fill="#e93f44"/>
<circle cx="672" cy="688.2" r="2.9" fill="#e93f44"/>
<circle cx="671.8" cy="734" r="2.9" fill="#e93f44"/>
<circle cx="672.5" cy="737.9" r="2.9" fill="#e93f44"/>
<circle cx="671.8" cy="745.7" r="2.9" fill="#e93f44"/>
<circle cx="672.5" cy="749.6" r="2.9" fill="#e93f44"/>
<circle cx="711.1" cy="764.1" r="2.9" fill="#000"/>
<circle cx="715.4" cy="764.1" r="2.9" fill="#000"/>
<circle cx="719.7" cy="764.1" r="2.9" fill="#000"/>
<circle cx="724" cy="764.1" r="2.9" fill="#000"/>
<circle cx="728.3" cy="764.1" r="2.9" fill="#000"/>
<circle cx="732.6" cy="764.1" r="2.9" fill="#000"/>
<circle cx="736.9" cy="764.1" r="2.9" fill="#000"/>
<circle cx="741.2" cy="764.1" r="2.9" fill="#000"/>
<circle cx="713.25" cy="761.75" r="2.9" fill="#000"/>
<circle cx="717.55" cy="761.75" r="2.9" fill="#000"/>
<circle cx="721.85" cy="761.75" r="2.9" fill="#000"/>
<circle cx="726.15" cy="761.75" r="2.9" fill="#000"/>
<circle cx="730.45" cy="761.75" r="2.9" fill="#000"/>
<circle cx="734.75" cy="761.75" r="2.9" fill="#000"/>
<circle cx="739.05" cy="761.75" r="2.9" fill="#000"/>
<circle cx="711.1" cy="759.4" r="2.9" fill="#000"/>
<circle cx="715.4" cy="759.4" r="2.9" fill="#000"/>
<circle cx="719.7" cy="759.4" r="2.9" fill="#000"/>
<circle cx="724" cy="759.4" r="2.9" fill="#000"/>
<circle cx="728.3" cy="759.4" r="2.9" fill="#000"/>
<circle cx="732.6" cy="759.4" r="2.9" fill="#000"/>
<circle cx="736.9" cy="759.4" r="2.9" fill="#000"/>
<circle cx="741.2" cy="759.4" r="2.9" fill="#000"/>
<circle cx="726.4" cy="605.8" r="2.9" fill="#000"/>
<circle cx="725.9" cy="723.7" r="2.9" fill="#000"/>
<circle cx="725.9" cy="734.9" r="2.9" fill="#000"/>
<circle cx="725.9" cy="740.5" r="2.9" fill="#000"/>
<circle cx="725.9" cy="745.7" r="2.9" fill="#000"/>
<circle cx="728.3" cy="747.5" r="2.9" fill="#000"/>
<circle cx="724.5" cy="749.5" r="2.9" fill="#000"/>
<circle cx="729.8" cy="750.5" r="2.9" fill="#000"/>
<circle cx="722.5" cy="752.8" r="2.9" fill="#000"/>
<circle cx="727" cy="752.8" r="2.9" fill="#000"/>
<circle cx="732" cy="754.5" r="2.9" fill="#000"/>
<circle cx="718.5" cy="755" r="2.9" fill="#000"/>
<circle cx="725" cy="755.5" r="2.9" fill="#000"/>
<text transform="translate(843.48 476.3) scale(0.8557 1)" font-size="49.02" font-weight="bold">F</text>
<line x1="985" y1="500.2" x2="985" y2="775.3" stroke="#000" stroke-width="2.6" stroke-linecap="butt"/>
<line x1="974.3" y1="774" x2="985" y2="774" stroke="#000" stroke-width="2.6" stroke-linecap="butt"/>
<text x="970.9" y="781.56" font-size="18.5" text-anchor="end" font-weight="bold" textLength="10.3" lengthAdjust="spacingAndGlyphs">0</text>
<line x1="974.3" y1="719.5" x2="985" y2="719.5" stroke="#000" stroke-width="2.6" stroke-linecap="butt"/>
<text x="970.9" y="727.06" font-size="18.5" text-anchor="end" font-weight="bold" textLength="20.6" lengthAdjust="spacingAndGlyphs">10</text>
<line x1="974.3" y1="665" x2="985" y2="665" stroke="#000" stroke-width="2.6" stroke-linecap="butt"/>
<text x="970.9" y="672.56" font-size="18.5" text-anchor="end" font-weight="bold" textLength="20.6" lengthAdjust="spacingAndGlyphs">20</text>
<line x1="974.3" y1="610.5" x2="985" y2="610.5" stroke="#000" stroke-width="2.6" stroke-linecap="butt"/>
<text x="970.9" y="618.06" font-size="18.5" text-anchor="end" font-weight="bold" textLength="20.6" lengthAdjust="spacingAndGlyphs">30</text>
<line x1="974.3" y1="556" x2="985" y2="556" stroke="#000" stroke-width="2.6" stroke-linecap="butt"/>
<text x="970.9" y="563.56" font-size="18.5" text-anchor="end" font-weight="bold" textLength="20.6" lengthAdjust="spacingAndGlyphs">40</text>
<line x1="974.3" y1="501.5" x2="985" y2="501.5" stroke="#000" stroke-width="2.6" stroke-linecap="butt"/>
<text x="970.9" y="509.06" font-size="18.5" text-anchor="end" font-weight="bold" textLength="20.6" lengthAdjust="spacingAndGlyphs">50</text>
<line x1="974.3" y1="774" x2="1258.1" y2="774" stroke="#000" stroke-width="2.6" stroke-linecap="butt"/>
<line x1="1026.8" y1="774" x2="1026.8" y2="785.1" stroke="#000" stroke-width="2.6" stroke-linecap="butt"/>
<line x1="1089.4" y1="774" x2="1089.4" y2="785.1" stroke="#000" stroke-width="2.6" stroke-linecap="butt"/>
<line x1="1152.5" y1="774" x2="1152.5" y2="785.1" stroke="#000" stroke-width="2.6" stroke-linecap="butt"/>
<line x1="1215.2" y1="774" x2="1215.2" y2="785.1" stroke="#000" stroke-width="2.6" stroke-linecap="butt"/>
<text x="935.3" y="636.3" font-size="19.2" text-anchor="middle" textLength="101.1" lengthAdjust="spacingAndGlyphs" transform="rotate(-90 935.3 636.3)">Hsp70 ng/мl</text>
<text x="1024.55" y="805.3" font-size="16" text-anchor="middle" textLength="57.26" lengthAdjust="spacingAndGlyphs">Control</text>
<text x="1089.1" y="805.3" font-size="16" text-anchor="middle" textLength="38.56" lengthAdjust="spacingAndGlyphs">20-39</text>
<text x="1152.2" y="805.3" font-size="16" text-anchor="middle" textLength="39.76" lengthAdjust="spacingAndGlyphs">40-59</text>
<text x="1214.75" y="805.3" font-size="16" text-anchor="middle" textLength="39.26" lengthAdjust="spacingAndGlyphs">60-79</text>
<polyline points="1026.8,744.7 1026.8,488 1218.2,488 1218.2,627.1" fill="none" stroke="#000" stroke-width="2.4" stroke-linejoin="miter"/>
<line x1="1026.8" y1="538.6" x2="1165.7" y2="538.6" stroke="#000" stroke-width="2.4" stroke-linecap="butt"/>
<path d="M1114.5 465.65V474.75M1110.56 467.93L1118.44 472.47M1110.56 472.47L1118.44 467.93" stroke="#000" stroke-width="3.3" stroke-linecap="round" fill="none"/>
<path d="M1130.5 465.65V474.75M1126.56 467.93L1134.44 472.47M1126.56 472.47L1134.44 467.93" stroke="#000" stroke-width="3.3" stroke-linecap="round" fill="none"/>
<path d="M1073 515.55V524.65M1069.06 517.83L1076.94 522.38M1069.06 522.38L1076.94 517.83" stroke="#000" stroke-width="3.3" stroke-linecap="round" fill="none"/>
<path d="M1089 515.55V524.65M1085.06 517.83L1092.94 522.38M1085.06 522.38L1092.94 517.83" stroke="#000" stroke-width="3.3" stroke-linecap="round" fill="none"/>
<path d="M1105 515.55V524.65M1101.06 517.83L1108.94 522.38M1101.06 522.38L1108.94 517.83" stroke="#000" stroke-width="3.3" stroke-linecap="round" fill="none"/>
<path d="M1121 515.55V524.65M1117.06 517.83L1124.94 522.38M1117.06 522.38L1124.94 517.83" stroke="#000" stroke-width="3.3" stroke-linecap="round" fill="none"/>
<circle cx="1026.8" cy="762.8" r="2.9" fill="#000"/>
<line x1="1069.7" y1="728.2" x2="1110" y2="728.2" stroke="#000" stroke-width="2.2" stroke-linecap="butt"/>
<circle cx="1089.1" cy="556" r="2.9" fill="#e93f44"/>
<circle cx="1080.9" cy="652.9" r="2.9" fill="#e93f44"/>
<circle cx="1089.9" cy="658" r="2.9" fill="#e93f44"/>
<circle cx="1099" cy="657.2" r="2.9" fill="#e93f44"/>
<circle cx="1089.9" cy="676.3" r="2.9" fill="#e93f44"/>
<circle cx="1089.9" cy="700.1" r="2.9" fill="#e93f44"/>
<circle cx="1071.79" cy="726.66" r="2.9" fill="#e93f44"/>
<circle cx="1107.91" cy="725.18" r="2.9" fill="#e93f44"/>
<circle cx="1080.93" cy="729.85" r="2.9" fill="#e93f44"/>
<circle cx="1089.85" cy="729.85" r="2.9" fill="#e93f44"/>
<circle cx="1098.99" cy="728.79" r="2.9" fill="#e93f44"/>
<circle cx="1071.79" cy="737.29" r="2.9" fill="#e93f44"/>
<circle cx="1080.93" cy="737.92" r="2.9" fill="#e93f44"/>
<circle cx="1089.85" cy="740.47" r="2.9" fill="#e93f44"/>
<circle cx="1098.99" cy="742.17" r="2.9" fill="#e93f44"/>
<circle cx="1107.91" cy="737.29" r="2.9" fill="#e93f44"/>
<circle cx="1080.93" cy="744.72" r="2.9" fill="#e93f44"/>
<line x1="1134" y1="725" x2="1171" y2="725" stroke="#000" stroke-width="2.2" stroke-linecap="butt"/>
<circle cx="1152.2" cy="579.4" r="2.9" fill="#000"/>
<circle cx="1152.5" cy="646.6" r="2.9" fill="#000"/>
<circle cx="1149.3" cy="673.6" r="2.9" fill="#000"/>
<circle cx="1155.3" cy="669.7" r="2.9" fill="#000"/>
<circle cx="1146.2" cy="691.6" r="2.9" fill="#000"/>
<circle cx="1153.6" cy="692.7" r="2.9" fill="#000"/>
<circle cx="1158.5" cy="694.2" r="2.9" fill="#000"/>
<circle cx="1152.5" cy="700.1" r="2.9" fill="#000"/>
<circle cx="1134.5" cy="724.5" r="2.9" fill="#000"/>
<circle cx="1141" cy="724.5" r="2.9" fill="#000"/>
<circle cx="1148" cy="724.5" r="2.9" fill="#000"/>
<circle cx="1155" cy="724.5" r="2.9" fill="#000"/>
<circle cx="1162" cy="724.5" r="2.9" fill="#000"/>
<circle cx="1169" cy="724.5" r="2.9" fill="#000"/>
<circle cx="1141" cy="728.8" r="2.9" fill="#000"/>
<circle cx="1155" cy="728.8" r="2.9" fill="#000"/>
<circle cx="1148" cy="734.1" r="2.9" fill="#000"/>
<circle cx="1155" cy="734.1" r="2.9" fill="#000"/>
<circle cx="1162" cy="734.1" r="2.9" fill="#000"/>
<circle cx="1141" cy="738.3" r="2.9" fill="#000"/>
<circle cx="1155" cy="738.3" r="2.9" fill="#000"/>
<circle cx="1162" cy="738.3" r="2.9" fill="#000"/>
<circle cx="1152.5" cy="742.6" r="2.9" fill="#000"/>
<circle cx="1162" cy="742.6" r="2.9" fill="#000"/>
<circle cx="1140" cy="745.1" r="2.9" fill="#000"/>
<circle cx="1166" cy="745.1" r="2.9" fill="#000"/>
<circle cx="1148" cy="730" r="2.9" fill="#000"/>
<circle cx="1160" cy="730" r="2.9" fill="#000"/>
<line x1="1195" y1="732" x2="1235.8" y2="732" stroke="#000" stroke-width="2.2" stroke-linecap="butt"/>
<circle cx="1215.2" cy="647" r="2.9" fill="#000"/>
<circle cx="1215.2" cy="670.8" r="2.9" fill="#000"/>
<circle cx="1204.2" cy="724.5" r="2.9" fill="#000"/>
<circle cx="1215.2" cy="727.7" r="2.9" fill="#000"/>
<circle cx="1225.8" cy="735.2" r="2.9" fill="#000"/>
<circle cx="1204.2" cy="743" r="2.9" fill="#000"/>
<circle cx="1215.2" cy="739.4" r="2.9" fill="#000"/>
<circle cx="1225.8" cy="742.2" r="2.9" fill="#000"/>
<text transform="translate(228.24 958.09) scale(0.9328 1)" font-size="51.94" font-weight="bold">G</text>
<line x1="300" y1="990.1" x2="300" y2="1263.8" stroke="#000" stroke-width="2.6" stroke-linecap="butt"/>
<line x1="288" y1="1262.5" x2="300" y2="1262.5" stroke="#000" stroke-width="2.6" stroke-linecap="butt"/>
<text x="283.5" y="1269.89" font-size="18" text-anchor="end" font-weight="bold" textLength="8.77" lengthAdjust="spacingAndGlyphs">0</text>
<line x1="288" y1="1194.72" x2="300" y2="1194.72" stroke="#000" stroke-width="2.6" stroke-linecap="butt"/>
<text x="283.5" y="1202.12" font-size="18" text-anchor="end" font-weight="bold" textLength="17.53" lengthAdjust="spacingAndGlyphs">20</text>
<line x1="288" y1="1126.95" x2="300" y2="1126.95" stroke="#000" stroke-width="2.6" stroke-linecap="butt"/>
<text x="283.5" y="1134.35" font-size="18" text-anchor="end" font-weight="bold" textLength="17.53" lengthAdjust="spacingAndGlyphs">40</text>
<line x1="288" y1="1059.17" x2="300" y2="1059.17" stroke="#000" stroke-width="2.6" stroke-linecap="butt"/>
<text x="283.5" y="1066.57" font-size="18" text-anchor="end" font-weight="bold" textLength="17.53" lengthAdjust="spacingAndGlyphs">60</text>
<line x1="288" y1="991.4" x2="300" y2="991.4" stroke="#000" stroke-width="2.6" stroke-linecap="butt"/>
<text x="283.5" y="998.79" font-size="18" text-anchor="end" font-weight="bold" textLength="17.53" lengthAdjust="spacingAndGlyphs">80</text>
<line x1="288" y1="1262.5" x2="572.7" y2="1262.5" stroke="#000" stroke-width="2.6" stroke-linecap="butt"/>
<line x1="341.1" y1="1262.5" x2="341.1" y2="1273.4" stroke="#000" stroke-width="2.6" stroke-linecap="butt"/>
<line x1="403.5" y1="1262.5" x2="403.5" y2="1273.4" stroke="#000" stroke-width="2.6" stroke-linecap="butt"/>
<line x1="466.3" y1="1262.5" x2="466.3" y2="1273.4" stroke="#000" stroke-width="2.6" stroke-linecap="butt"/>
<line x1="529.3" y1="1262.5" x2="529.3" y2="1273.4" stroke="#000" stroke-width="2.6" stroke-linecap="butt"/>
<text x="250.8" y="1124.6" font-size="19.5" text-anchor="middle" textLength="104.8" lengthAdjust="spacingAndGlyphs" transform="rotate(-90 250.8 1124.6)">Hsp70 ng/ml</text>
<text x="338.95" y="1296.4" font-size="17.5" text-anchor="middle" textLength="63.95" lengthAdjust="spacingAndGlyphs">Control</text>
<text x="404.1" y="1296.4" font-size="17.5" text-anchor="middle" textLength="37.45" lengthAdjust="spacingAndGlyphs">j45.0</text>
<text x="466.6" y="1296.4" font-size="17.5" text-anchor="middle" textLength="37.25" lengthAdjust="spacingAndGlyphs">j45.8</text>
<text x="529.2" y="1296.4" font-size="17.5" text-anchor="middle" textLength="36.85" lengthAdjust="spacingAndGlyphs">j45.9</text>
<line x1="324.5" y1="1010.7" x2="547.3" y2="1010.7" stroke="#000" stroke-width="1.9" stroke-linecap="butt"/>
<path d="M413.2 987.95V997.05M409.26 990.23L417.14 994.77M409.26 994.77L417.14 990.23" stroke="#000" stroke-width="3.3" stroke-linecap="round" fill="none"/>
<path d="M429.2 987.95V997.05M425.26 990.23L433.14 994.77M425.26 994.77L433.14 990.23" stroke="#000" stroke-width="3.3" stroke-linecap="round" fill="none"/>
<path d="M445.2 987.95V997.05M441.26 990.23L449.14 994.77M441.26 994.77L449.14 990.23" stroke="#000" stroke-width="3.3" stroke-linecap="round" fill="none"/>
<path d="M461.2 987.95V997.05M457.26 990.23L465.14 994.77M457.26 994.77L465.14 990.23" stroke="#000" stroke-width="3.3" stroke-linecap="round" fill="none"/>
<circle cx="341.5" cy="1256" r="2.9" fill="#000"/>
<circle cx="404.1" cy="1102.6" r="2.9" fill="#000"/>
<circle cx="403.9" cy="1196" r="2.9" fill="#000"/>
<circle cx="400.8" cy="1220.2" r="2.9" fill="#000"/>
<circle cx="407.6" cy="1217.5" r="2.9" fill="#000"/>
<line x1="385.5" y1="1233.9" x2="423.3" y2="1233.9" stroke="#000" stroke-width="2.2" stroke-linecap="butt"/>
<circle cx="385.5" cy="1233.9" r="2.9" fill="#000"/>
<circle cx="392" cy="1233.9" r="2.9" fill="#000"/>
<circle cx="398" cy="1233.9" r="2.9" fill="#000"/>
<circle cx="404" cy="1233.9" r="2.9" fill="#000"/>
<circle cx="410" cy="1233.9" r="2.9" fill="#000"/>
<circle cx="416" cy="1233.9" r="2.9" fill="#000"/>
<circle cx="422.5" cy="1233.9" r="2.9" fill="#000"/>
<circle cx="397.7" cy="1238.4" r="2.9" fill="#000"/>
<circle cx="404" cy="1238.4" r="2.9" fill="#000"/>
<circle cx="410" cy="1238.4" r="2.9" fill="#000"/>
<circle cx="416" cy="1238.4" r="2.9" fill="#000"/>
<circle cx="404" cy="1231.8" r="2.9" fill="#000"/>
<circle cx="416" cy="1231.8" r="2.9" fill="#000"/>
<circle cx="422.5" cy="1231.8" r="2.9" fill="#000"/>
<circle cx="391.6" cy="1242.5" r="2.9" fill="#000"/>
<circle cx="416.2" cy="1243.7" r="2.9" fill="#000"/>
<circle cx="466.9" cy="1169.8" r="2.9" fill="#000"/>
<circle cx="466.9" cy="1189.5" r="2.9" fill="#000"/>
<circle cx="465.7" cy="1201.1" r="2.9" fill="#000"/>
<circle cx="468.9" cy="1198.7" r="2.9" fill="#000"/>
<circle cx="466.9" cy="1211" r="2.9" fill="#000"/>
<circle cx="466.9" cy="1217.5" r="2.9" fill="#000"/>
<circle cx="466.9" cy="1224.9" r="2.9" fill="#000"/>
<circle cx="449.5" cy="1232.5" r="2.9" fill="#000"/>
<circle cx="454" cy="1232.5" r="2.9" fill="#000"/>
<circle cx="465" cy="1232.5" r="2.9" fill="#000"/>
<circle cx="470" cy="1232.5" r="2.9" fill="#000"/>
<circle cx="475" cy="1232.5" r="2.9" fill="#000"/>
<circle cx="480" cy="1232.5" r="2.9" fill="#000"/>
<circle cx="484.8" cy="1232.5" r="2.9" fill="#000"/>
<circle cx="449.5" cy="1236.5" r="2.9" fill="#000"/>
<circle cx="454" cy="1236.5" r="2.9" fill="#000"/>
<circle cx="459" cy="1236.5" r="2.9" fill="#000"/>
<circle cx="464" cy="1236.5" r="2.9" fill="#000"/>
<circle cx="469" cy="1236.5" r="2.9" fill="#000"/>
<circle cx="474" cy="1236.5" r="2.9" fill="#000"/>
<circle cx="479" cy="1236.5" r="2.9" fill="#000"/>
<circle cx="484.8" cy="1236.5" r="2.9" fill="#000"/>
<circle cx="449.5" cy="1240.3" r="2.9" fill="#000"/>
<circle cx="454" cy="1240.3" r="2.9" fill="#000"/>
<circle cx="459" cy="1240.3" r="2.9" fill="#000"/>
<circle cx="464" cy="1240.3" r="2.9" fill="#000"/>
<circle cx="469" cy="1240.3" r="2.9" fill="#000"/>
<circle cx="474" cy="1240.3" r="2.9" fill="#000"/>
<circle cx="479" cy="1240.3" r="2.9" fill="#000"/>
<circle cx="484" cy="1240.3" r="2.9" fill="#000"/>
<circle cx="452" cy="1243.5" r="2.9" fill="#000"/>
<circle cx="458" cy="1243.5" r="2.9" fill="#000"/>
<circle cx="465" cy="1243.5" r="2.9" fill="#000"/>
<circle cx="471" cy="1243.5" r="2.9" fill="#000"/>
<circle cx="478" cy="1243.5" r="2.9" fill="#000"/>
<circle cx="465.2" cy="1245.2" r="2.9" fill="#000"/>
<circle cx="476" cy="1245" r="2.9" fill="#000"/>
<line x1="509.2" y1="1204" x2="550.8" y2="1204" stroke="#000" stroke-width="2.2" stroke-linecap="butt"/>
<circle cx="529.6" cy="1046.3" r="2.9" fill="#e93f44"/>
<circle cx="529.3" cy="1190.3" r="2.9" fill="#e93f44"/>
<circle cx="529.3" cy="1216.5" r="2.9" fill="#e93f44"/>
<circle cx="529.3" cy="1223" r="2.9" fill="#e93f44"/>
<text transform="translate(690.27 957.4) scale(0.9573 1)" font-size="50.4" font-weight="bold">H</text>
<line x1="766.7" y1="990" x2="766.7" y2="1263.6" stroke="#000" stroke-width="2.6" stroke-linecap="butt"/>
<line x1="754.7" y1="1262.3" x2="766.7" y2="1262.3" stroke="#000" stroke-width="2.6" stroke-linecap="butt"/>
<text x="751" y="1270.02" font-size="19" text-anchor="end" font-weight="bold" textLength="10" lengthAdjust="spacingAndGlyphs">0</text>
<line x1="754.7" y1="1208.1" x2="766.7" y2="1208.1" stroke="#000" stroke-width="2.6" stroke-linecap="butt"/>
<text x="751" y="1215.82" font-size="19" text-anchor="end" font-weight="bold" textLength="20" lengthAdjust="spacingAndGlyphs">50</text>
<line x1="754.7" y1="1153.9" x2="766.7" y2="1153.9" stroke="#000" stroke-width="2.6" stroke-linecap="butt"/>
<text x="751" y="1161.62" font-size="19" text-anchor="end" font-weight="bold" textLength="30" lengthAdjust="spacingAndGlyphs">100</text>
<line x1="754.7" y1="1099.7" x2="766.7" y2="1099.7" stroke="#000" stroke-width="2.6" stroke-linecap="butt"/>
<text x="751" y="1107.42" font-size="19" text-anchor="end" font-weight="bold" textLength="30" lengthAdjust="spacingAndGlyphs">150</text>
<line x1="754.7" y1="1045.5" x2="766.7" y2="1045.5" stroke="#000" stroke-width="2.6" stroke-linecap="butt"/>
<text x="751" y="1053.22" font-size="19" text-anchor="end" font-weight="bold" textLength="30" lengthAdjust="spacingAndGlyphs">200</text>
<line x1="754.7" y1="991.3" x2="766.7" y2="991.3" stroke="#000" stroke-width="2.6" stroke-linecap="butt"/>
<text x="751" y="999.02" font-size="19" text-anchor="end" font-weight="bold" textLength="30" lengthAdjust="spacingAndGlyphs">250</text>
<line x1="754.6" y1="1262.3" x2="947.2" y2="1262.3" stroke="#000" stroke-width="2.6" stroke-linecap="butt"/>
<line x1="801.9" y1="1262.3" x2="801.9" y2="1274" stroke="#000" stroke-width="2.6" stroke-linecap="butt"/>
<line x1="856.6" y1="1262.3" x2="856.6" y2="1305" stroke="#000" stroke-width="2.6" stroke-linecap="butt"/>
<line x1="910.7" y1="1262.3" x2="910.7" y2="1338.6" stroke="#000" stroke-width="2.6" stroke-linecap="butt"/>
<text x="708" y="1124.9" font-size="19.5" text-anchor="middle" font-family='"Liberation Sans", sans-serif' textLength="103.3" lengthAdjust="spacingAndGlyphs" transform="rotate(-90 708 1124.9)">Hsp70 ng/ml</text>
<text x="790.7" y="1292.9" font-size="19" text-anchor="middle" textLength="69.14" lengthAdjust="spacingAndGlyphs">Control</text>
<text x="786.1" y="1323.7" font-size="19" text-anchor="middle" textLength="215.14" lengthAdjust="spacingAndGlyphs">Non-eosinophilic (&lt;150)</text>
<text x="869.95" y="1356.8" font-size="19" text-anchor="middle" textLength="170.64" lengthAdjust="spacingAndGlyphs">Eosinophilic (&gt;150)</text>
<line x1="789.7" y1="991.5" x2="940.3" y2="991.5" stroke="#000" stroke-width="1.9" stroke-linecap="butt"/>
<path d="M841.8 968.75V977.85M837.86 971.02L845.74 975.57M837.86 975.57L845.74 971.02" stroke="#000" stroke-width="3.3" stroke-linecap="round" fill="none"/>
<path d="M857.8 968.75V977.85M853.86 971.02L861.74 975.57M853.86 975.57L861.74 971.02" stroke="#000" stroke-width="3.3" stroke-linecap="round" fill="none"/>
<path d="M873.8 968.75V977.85M869.86 971.02L877.74 975.57M869.86 975.57L877.74 971.02" stroke="#000" stroke-width="3.3" stroke-linecap="round" fill="none"/>
<path d="M889.8 968.75V977.85M885.86 971.02L893.74 975.57M885.86 975.57L893.74 971.02" stroke="#000" stroke-width="3.3" stroke-linecap="round" fill="none"/>
<circle cx="801.9" cy="1260.3" r="2.5" fill="#000"/>
<circle cx="841.6" cy="1256.5" r="2.9" fill="#e93f44"/>
<circle cx="845.9" cy="1256.5" r="2.9" fill="#e93f44"/>
<circle cx="850.2" cy="1256.5" r="2.9" fill="#e93f44"/>
<circle cx="854.5" cy="1256.5" r="2.9" fill="#e93f44"/>
<circle cx="858.8" cy="1256.5" r="2.9" fill="#e93f44"/>
<circle cx="863.1" cy="1256.5" r="2.9" fill="#e93f44"/>
<circle cx="867.4" cy="1256.5" r="2.9" fill="#e93f44"/>
<circle cx="871.7" cy="1256.5" r="2.9" fill="#e93f44"/>
<circle cx="843.75" cy="1254.75" r="2.9" fill="#e93f44"/>
<circle cx="848.05" cy="1254.75" r="2.9" fill="#e93f44"/>
<circle cx="852.35" cy="1254.75" r="2.9" fill="#e93f44"/>
<circle cx="856.65" cy="1254.75" r="2.9" fill="#e93f44"/>
<circle cx="860.95" cy="1254.75" r="2.9" fill="#e93f44"/>
<circle cx="865.25" cy="1254.75" r="2.9" fill="#e93f44"/>
<circle cx="869.55" cy="1254.75" r="2.9" fill="#e93f44"/>
<circle cx="841.6" cy="1253" r="2.9" fill="#e93f44"/>
<circle cx="845.9" cy="1253" r="2.9" fill="#e93f44"/>
<circle cx="850.2" cy="1253" r="2.9" fill="#e93f44"/>
<circle cx="854.5" cy="1253" r="2.9" fill="#e93f44"/>
<circle cx="858.8" cy="1253" r="2.9" fill="#e93f44"/>
<circle cx="863.1" cy="1253" r="2.9" fill="#e93f44"/>
<circle cx="867.4" cy="1253" r="2.9" fill="#e93f44"/>
<circle cx="871.7" cy="1253" r="2.9" fill="#e93f44"/>
<circle cx="856.4" cy="1232.8" r="2.9" fill="#e93f44"/>
<circle cx="856.4" cy="1235.4" r="2.9" fill="#e93f44"/>
<circle cx="855" cy="1238.8" r="2.9" fill="#e93f44"/>
<circle cx="857.5" cy="1242.3" r="2.9" fill="#e93f44"/>
<circle cx="855.5" cy="1245.8" r="2.9" fill="#e93f44"/>
<circle cx="857" cy="1248.4" r="2.9" fill="#e93f44"/>
<circle cx="856.5" cy="1008.7" r="2.9" fill="#e93f44"/>
<circle cx="856.5" cy="1104.7" r="2.9" fill="#e93f44"/>
<circle cx="856.5" cy="1148.2" r="2.9" fill="#e93f44"/>
<circle cx="856.5" cy="1162" r="2.9" fill="#e93f44"/>
<circle cx="856.5" cy="1193.8" r="2.9" fill="#e93f44"/>
<circle cx="856.5" cy="1206.8" r="2.9" fill="#e93f44"/>
<circle cx="856.5" cy="1210.7" r="2.9" fill="#e93f44"/>
<circle cx="856.5" cy="1224.1" r="2.9" fill="#e93f44"/>
<circle cx="895.6" cy="1256.5" r="2.9" fill="#000"/>
<circle cx="899.91" cy="1256.5" r="2.9" fill="#000"/>
<circle cx="904.23" cy="1256.5" r="2.9" fill="#000"/>
<circle cx="908.54" cy="1256.5" r="2.9" fill="#000"/>
<circle cx="912.86" cy="1256.5" r="2.9" fill="#000"/>
<circle cx="917.17" cy="1256.5" r="2.9" fill="#000"/>
<circle cx="921.49" cy="1256.5" r="2.9" fill="#000"/>
<circle cx="925.8" cy="1256.5" r="2.9" fill="#000"/>
<circle cx="897.76" cy="1253.9" r="2.9" fill="#000"/>
<circle cx="902.07" cy="1253.9" r="2.9" fill="#000"/>
<circle cx="906.39" cy="1253.9" r="2.9" fill="#000"/>
<circle cx="910.7" cy="1253.9" r="2.9" fill="#000"/>
<circle cx="915.01" cy="1253.9" r="2.9" fill="#000"/>
<circle cx="919.33" cy="1253.9" r="2.9" fill="#000"/>
<circle cx="923.64" cy="1253.9" r="2.9" fill="#000"/>
<line x1="893" y1="1254" x2="929" y2="1254" stroke="#000" stroke-width="2.2" stroke-linecap="butt"/>
<circle cx="911" cy="1015.4" r="2.9" fill="#000"/>
<circle cx="911" cy="1085.8" r="2.9" fill="#000"/>
<circle cx="911" cy="1099.3" r="2.9" fill="#000"/>
<circle cx="911" cy="1174.4" r="2.9" fill="#000"/>
<circle cx="910.7" cy="1219.4" r="2.9" fill="#000"/>
<circle cx="910.7" cy="1236.7" r="2.9" fill="#000"/>
<circle cx="913.5" cy="1239.7" r="2.9" fill="#000"/>
<circle cx="907.5" cy="1245.5" r="2.9" fill="#000"/>
<circle cx="911.5" cy="1246.5" r="2.9" fill="#000"/>
<circle cx="915" cy="1248.2" r="2.9" fill="#000"/>
</svg>
</body></html>
